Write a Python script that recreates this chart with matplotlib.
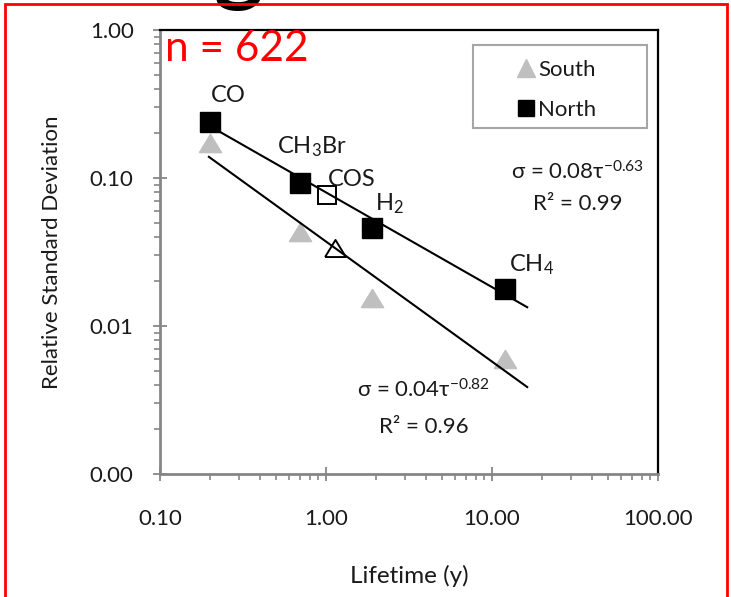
import numpy as np
import matplotlib.pyplot as plt
from matplotlib.ticker import FixedLocator, LogLocator, NullFormatter, FixedFormatter
from matplotlib.lines import Line2D
from matplotlib.patches import Rectangle

plt.rcParams['font.family'] = ['Lato', 'DejaVu Sans']
plt.rcParams['mathtext.fontset'] = 'custom'
plt.rcParams['mathtext.rm'] = 'Lato'
plt.rcParams['mathtext.it'] = 'Lato'

# ---------------------------
# data
# ---------------------------
gases = ['CO', 'CH3Br', 'H2', 'CH4']
lifetime = [0.2, 0.7, 1.9, 12.0]
north_rsd = [0.238, 0.093, 0.046, 0.0178]
south_rsd = [0.172, 0.043, 0.0154, 0.0060]

# COS (open symbols, not in the fit)
cos_north = (1.01, 0.077)
cos_south = (1.13, 0.0335)

# fit lines (end points)
north_fit_x = [0.2, 16.3]
north_fit_y = [0.224, 0.0134]
south_fit_x = [0.197, 16.3]
south_fit_y = [0.139, 0.00387]

xticks = [0.1, 1, 10, 100]
xticklabels = ['0.10', '1.00', '10.00', '100.00']
yticks = [0.001, 0.01, 0.1, 1]
yticklabels = ['0.00', '0.01', '0.10', '1.00']

grey = '#bfbfbf'
axgrey = '#868686'
txt = '#1a1a1a'

# a slightly flattened triangle, like the Excel marker
tri = [(-1, -0.82), (1, -0.82), (0, 0.82), (-1, -0.82)]

fig = plt.figure(figsize=(7.31, 5.97), dpi=100)
ax = fig.add_axes([0.2189, 0.2060, 0.6812, 0.7437])

ax.set_xscale('log')
ax.set_yscale('log')
ax.set_xlim(0.1, 100)
ax.set_ylim(0.001, 1)

ax.plot(south_fit_x, south_fit_y, color='black', lw=1.5, zorder=4)
ax.plot(north_fit_x, north_fit_y, color='black', lw=1.5, zorder=4)

ax.plot(lifetime, south_rsd, ls='none', marker=tri, ms=16, color=grey, zorder=2)
ax.plot(lifetime, north_rsd, ls='none', marker='s', ms=14.5, color='black', zorder=3)
ax.plot(*cos_north, ls='none', marker='s', ms=13, mfc='white', mec='black', mew=1.4, zorder=3)
ax.plot(*cos_south, ls='none', marker=tri, ms=15, mfc='white', mec='black', mew=1.4, zorder=3)

# species labels
fs = 17
ax.text(0.257, 0.326, 'CO', fontsize=fs, ha='center', va='baseline', color=txt)
ax.text(0.823, 0.1476, 'CH$_3$Br', fontsize=fs, ha='center', va='baseline', color=txt)
ax.text(1.434, 0.0883, 'COS', fontsize=fs, ha='center', va='baseline', color=txt)
ax.text(2.40, 0.0608, 'H$_2$', fontsize=fs, ha='center', va='baseline', color=txt)
ax.text(17.2, 0.0235, 'CH$_4$', fontsize=fs, ha='center', va='baseline', color=txt)

# fit equations
ax.text(0.839, 0.680, 'σ = 0.08τ$^{-0.63}$', transform=ax.transAxes, fontsize=16,
        ha='center', va='center', color=txt)
ax.text(0.839, 0.608, 'R² = 0.99', transform=ax.transAxes, fontsize=16,
        ha='center', va='center', color=txt)
ax.text(0.530, 0.190, 'σ = 0.04τ$^{-0.82}$', transform=ax.transAxes, fontsize=16,
        ha='center', va='center', color=txt)
ax.text(0.530, 0.106, 'R² = 0.96', transform=ax.transAxes, fontsize=16,
        ha='center', va='center', color=txt)

ax.text(0.010, 1.0, 'n = 622', transform=ax.transAxes, fontsize=30.5, color='red',
        ha='left', va='top')

# axes styling
for s in ['left', 'bottom']:
    ax.spines[s].set_color(axgrey)
    ax.spines[s].set_linewidth(2)
for s in ['top', 'right']:
    ax.spines[s].set_color('black')
    ax.spines[s].set_linewidth(1.6)

ax.xaxis.set_major_locator(FixedLocator(xticks))
ax.xaxis.set_major_formatter(FixedFormatter(xticklabels))
ax.yaxis.set_major_locator(FixedLocator(yticks))
ax.yaxis.set_major_formatter(FixedFormatter(yticklabels))
ax.xaxis.set_minor_locator(LogLocator(base=10, subs=np.arange(2, 10)))
ax.yaxis.set_minor_locator(LogLocator(base=10, subs=np.arange(2, 10)))
ax.xaxis.set_minor_formatter(NullFormatter())
ax.yaxis.set_minor_formatter(NullFormatter())

ax.tick_params(which='major', direction='inout', length=10, width=1.3, color=axgrey,
               labelsize=16, labelcolor=txt)
ax.tick_params(which='minor', direction='out', length=4, width=1.2, color=axgrey)
ax.tick_params(axis='x', which='major', pad=20)
ax.tick_params(axis='y', which='major', pad=14)

ax.set_xlabel('Lifetime (y)', fontsize=17.5, labelpad=26, color=txt)
ax.set_ylabel('Relative Standard Deviation', fontsize=16, labelpad=20, color=txt)

# legend: wide grey box with the entries on its right half
ax.add_patch(Rectangle((0.628, 0.779), 0.350, 0.187, transform=ax.transAxes,
                       facecolor='white', edgecolor='#a6a6a6', lw=1.5, zorder=5))
handles = [Line2D([], [], ls='none', marker='^', ms=13, color=grey),
           Line2D([], [], ls='none', marker='s', ms=12, color='black')]
leg = ax.legend(handles, ['South', 'North'], loc='upper left',
                bbox_to_anchor=(0.713, 0.933), fontsize=16, frameon=False,
                handletextpad=0.05, handlelength=1.0, borderpad=0,
                labelspacing=0.89, borderaxespad=0)
leg.set_zorder(6)
for t in leg.get_texts():
    t.set_color(txt)

# cut-off title glyph and red frame
fig.text(0.327, 1.010, 'g', fontsize=68, fontweight='bold', ha='center', va='baseline')
fig.patches.append(Rectangle((0.007, -0.05), 0.988, 1.043, transform=fig.transFigure,
                             fill=False, edgecolor='red', lw=2, zorder=10))

fig.savefig('out.png', dpi=100)
